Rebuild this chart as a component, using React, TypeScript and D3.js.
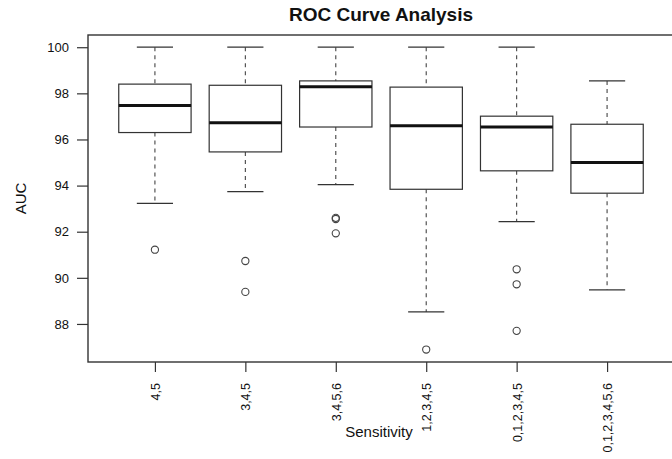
import React, { useEffect, useRef } from 'react'
import * as d3 from 'd3'

const [WIDTH, HEIGHT] = [672, 459]
const FONT = '"Liberation Sans", Arial, Helvetica, sans-serif'

// plot region (R-style frame, right edge runs off the picture)
const frame = { left: 88, right: 674, top: 35, bottom: 362 }

const categories = ['4,5', '3,4,5', '3,4,5,6', '1,2,3,4,5', '0,1,2,3,4,5', '0,1,2,3,4,5,6']
const whiskerHigh = [100, 100, 100, 100, 100, 98.54]
const q3 = [98.4, 98.35, 98.54, 98.27, 97.01, 96.66]
const medians = [97.47, 96.72, 98.29, 96.59, 96.54, 95.0]
const q1 = [96.3, 95.46, 96.54, 93.84, 94.64, 93.67]
const whiskerLow = [93.23, 93.74, 94.04, 88.52, 92.44, 89.48]
const outliers = [
  [91.22],
  [90.73, 89.39],
  [92.6, 92.55, 91.93],
  [86.89],
  [90.37, 89.72, 87.7],
  [],
]
const yTicks = [88, 90, 92, 94, 96, 98, 100]

export default function App() {
  const ref = useRef<SVGSVGElement>(null)

  // R pads the data range by 4% on both axes
  const xScale = d3.scaleLinear()
    .domain([0.26, 6.74])
    .range([frame.left, frame.right])
  const yScale = d3.scaleLinear()
    .domain([86.35, 100.53])
    .range([frame.bottom, frame.top])

  const boxW = (xScale(1.4) - xScale(1)) * 2
  const capW = boxW / 2

  useEffect(() => {
    document.body.style.margin = '0'
    const svg = d3.select(ref.current)
    svg.selectAll('g.axis').remove()

    const yAxis = d3.axisLeft(yScale)
      .tickValues(yTicks)
      .tickSize(11)
      .tickSizeOuter(0)
      .tickPadding(8)
      .tickFormat(d3.format('d'))
    const yg = svg.append('g')
      .attr('class', 'axis')
      .attr('transform', `translate(${frame.left},0)`)
      .call(yAxis)
    yg.select('.domain').remove()
    yg.selectAll('line').attr('stroke', '#333').attr('stroke-width', 1.2)
    yg.selectAll('text')
      .attr('fill', '#111')
      .style('font-family', FONT)
      .style('font-size', '13px')

    const xAxis = d3.axisBottom(xScale)
      .tickValues(d3.range(1, categories.length + 1))
      .tickSize(10)
      .tickSizeOuter(0)
      .tickFormat((d) => categories[(d as number) - 1])
    const xg = svg.append('g')
      .attr('class', 'axis')
      .attr('transform', `translate(0,${frame.bottom})`)
      .call(xAxis)
    xg.select('.domain').remove()
    xg.selectAll('line').attr('stroke', '#333').attr('stroke-width', 1.2)
    xg.selectAll('text')
      .attr('fill', '#111')
      .attr('transform', 'rotate(-90)')
      .attr('x', -21)
      .attr('y', 0)
      .attr('dy', '0.35em')
      .style('text-anchor', 'end')
      .style('font-family', FONT)
      .style('font-size', '12.5px')
  }, [])

  const boxes = categories.map((c, i) => {
    const cx = xScale(i + 1)
    return (
      <g key={c}>
        <line x1={cx} x2={cx} y1={yScale(whiskerHigh[i])} y2={yScale(q3[i])}
          stroke="#444" strokeWidth={1.1} strokeDasharray="4,4" />
        <line x1={cx} x2={cx} y1={yScale(q1[i])} y2={yScale(whiskerLow[i])}
          stroke="#444" strokeWidth={1.1} strokeDasharray="4,4" />
        <line x1={cx - capW / 2} x2={cx + capW / 2} y1={yScale(whiskerHigh[i])} y2={yScale(whiskerHigh[i])}
          stroke="#333" strokeWidth={1.2} />
        <line x1={cx - capW / 2} x2={cx + capW / 2} y1={yScale(whiskerLow[i])} y2={yScale(whiskerLow[i])}
          stroke="#333" strokeWidth={1.2} />
        <rect x={cx - boxW / 2} y={yScale(q3[i])} width={boxW} height={yScale(q1[i]) - yScale(q3[i])}
          fill="white" stroke="#333" strokeWidth={1.2} />
        <line x1={cx - boxW / 2} x2={cx + boxW / 2} y1={yScale(medians[i])} y2={yScale(medians[i])}
          stroke="#111" strokeWidth={3} />
        {outliers[i].map((v, j) => (
          <circle key={j} cx={cx} cy={yScale(v)} r={3.6} fill="none" stroke="#444" strokeWidth={1.1} />
        ))}
      </g>
    )
  })

  return (
    <svg ref={ref} width={WIDTH} height={HEIGHT} style={{ display: 'block', background: 'white' }}>
      <text x={(frame.left + frame.right) / 2} y={21} textAnchor="middle"
        style={{ fontFamily: FONT, fontSize: 19, fontWeight: 'bold' }} fill="#111">
        ROC Curve Analysis
      </text>
      {boxes}
      <rect x={frame.left} y={frame.top} width={frame.right - frame.left} height={frame.bottom - frame.top}
        fill="none" stroke="#333" strokeWidth={1.4} />
      <text transform={`translate(26,${(frame.top + frame.bottom) / 2}) rotate(-90)`} textAnchor="middle"
        style={{ fontFamily: FONT, fontSize: 15 }} fill="#111">
        AUC
      </text>
      <text x={379} y={437} textAnchor="middle" style={{ fontFamily: FONT, fontSize: 15 }} fill="#111">
        Sensitivity
      </text>
    </svg>
  )
}
